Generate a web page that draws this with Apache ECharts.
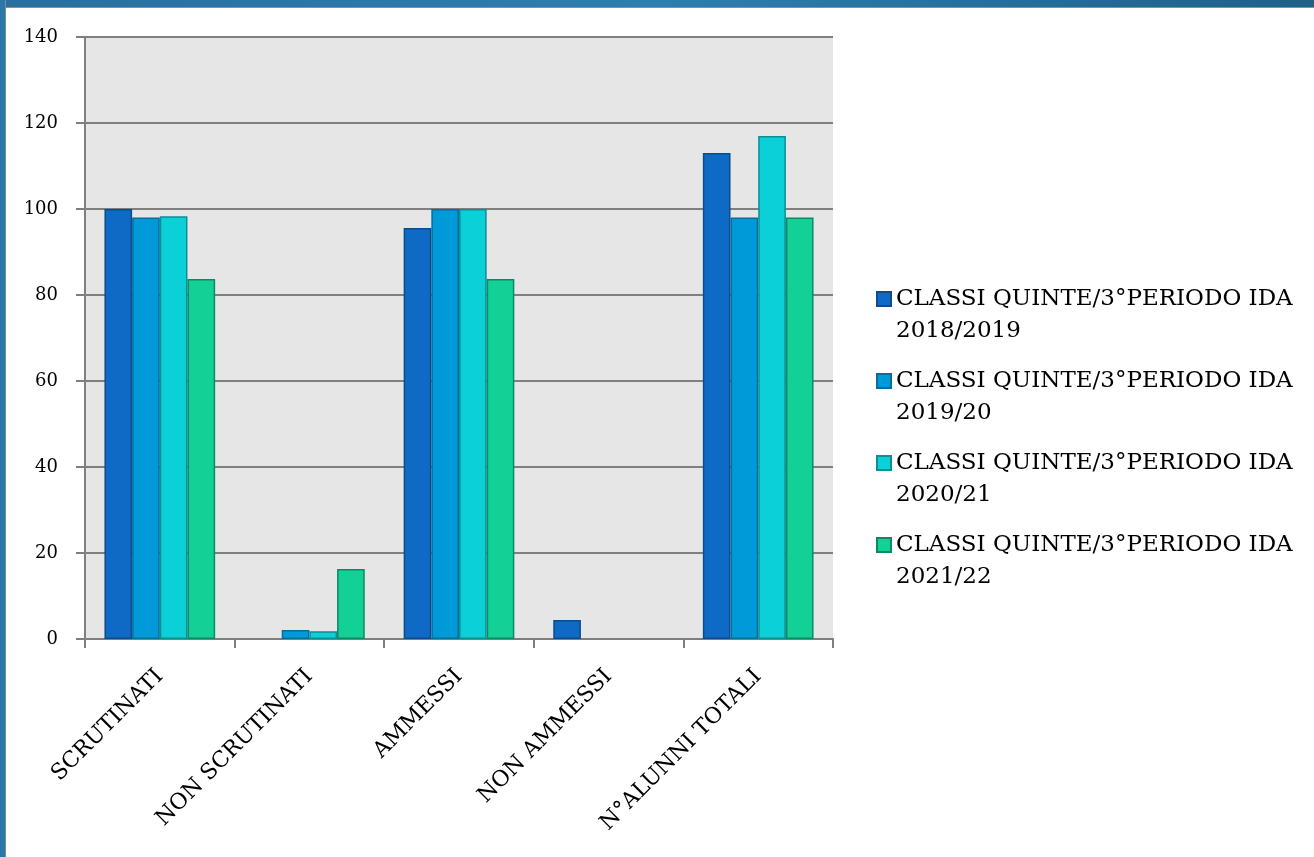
<!DOCTYPE html>
<html>
<head>
<meta charset="utf-8">
<script src="https://cdn.jsdelivr.net/npm/echarts@6/dist/echarts.min.js"></script>
<style>
html,body{margin:0;padding:0;width:1314px;height:857px;overflow:hidden;background:#fff;}
#topband{position:absolute;left:0;top:0;width:1314px;height:7px;background:linear-gradient(to right,#2a6f9e,#2e7fad 50%,#1f5f8a);border-bottom:1px solid #8a8f94;}
#leftband{position:absolute;left:0;top:0;width:5px;height:857px;background:#2a78a6;border-right:1px solid #7a8a96;}
#chart{position:absolute;left:0;top:0;width:1314px;height:857px;}
</style>
</head>
<body>
<div id="chart"></div>
<div id="topband"></div>
<div id="leftband"></div>
<script>
const categories = ['SCRUTINATI', 'NON SCRUTINATI', 'AMMESSI', 'NON AMMESSI', 'N°ALUNNI TOTALI'];
const seriesNames = [
  'CLASSI QUINTE/3°PERIODO IDA\n2018/2019',
  'CLASSI QUINTE/3°PERIODO IDA\n2019/20',
  'CLASSI QUINTE/3°PERIODO IDA\n2020/21',
  'CLASSI QUINTE/3°PERIODO IDA\n2021/22'
];
const s2018 = [100, 0, 95.6, 4.4, 113];
const s2019 = [98, 2.1, 100, 0, 98];
const s2020 = [98.3, 1.8, 100, 0, 117];
const s2021 = [83.7, 16.3, 83.7, 0, 98];
const yTicks = [0, 20, 40, 60, 80, 100, 120, 140];

const fills = ['#0e6ac4', '#009ad8', '#0cd0d8', '#12d096'];
const borders = ['#0b4d8c', '#056e9a', '#0a8f96', '#0b8a66'];
const dataSets = [s2018, s2019, s2020, s2021];
const FONT = 'DejaVu Serif';

const chart = echarts.init(document.getElementById('chart'));
chart.setOption({
  animation: false,
  backgroundColor: 'transparent',
  grid: {left: 85, right: 481, top: 37, bottom: 218, show: true, backgroundColor: '#e6e6e6', borderWidth: 0},
  xAxis: {
    type: 'category',
    data: categories,
    axisLine: {lineStyle: {color: '#7f7f7f', width: 2}},
    axisTick: {show: true, length: 9, lineStyle: {color: '#7f7f7f', width: 2}},
    axisLabel: {rotate: 45, interval: 0, margin: 34, color: '#000', fontFamily: FONT, fontSize: 22}
  },
  yAxis: {
    type: 'value',
    min: yTicks[0], max: yTicks[yTicks.length - 1], interval: 20,
    axisLine: {show: true, lineStyle: {color: '#7f7f7f', width: 2}},
    axisTick: {show: true, length: 9, lineStyle: {color: '#7f7f7f', width: 2}},
    splitLine: {lineStyle: {color: '#7f7f7f', width: 2}},
    axisLabel: {margin: 27, color: '#000', fontFamily: FONT, fontSize: 18}
  },
  legend: {
    orient: 'vertical',
    left: 876,
    top: 251,
    padding: 0,
    icon: 'rect',
    itemWidth: 14,
    itemHeight: 14,
    itemGap: -14,
    data: seriesNames,
    formatter: name => '\n' + name,
    textStyle: {fontFamily: FONT, fontSize: 23, color: '#000', lineHeight: 32}
  },
  series: dataSets.map((d, i) => ({
    name: seriesNames[i],
    type: 'bar',
    data: d.map(v => (v === 0 ? {value: v, itemStyle: {borderWidth: 0}} : v)),
    barGap: '0%',
    barCategoryGap: '26%',
    itemStyle: {color: fills[i], borderColor: borders[i], borderWidth: 1.5}
  }))
});
</script>
</body>
</html>
